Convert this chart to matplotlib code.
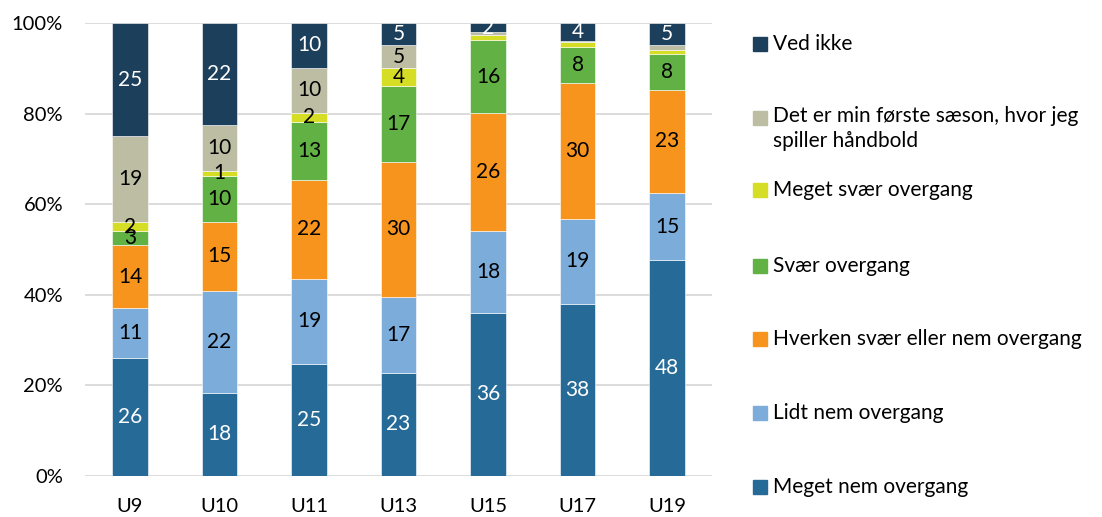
import matplotlib
matplotlib.use("Agg")
import matplotlib.pyplot as plt
import numpy as np

plt.rcParams['font.family'] = ['Lato', 'DejaVu Sans']

categories = ["U9", "U10", "U11", "U13", "U15", "U17", "U19"]
series_names = [
    "Meget nem overgang",
    "Lidt nem overgang",
    "Hverken svær eller nem overgang",
    "Svær overgang",
    "Meget svær overgang",
    "Det er min første sæson, hvor jeg\nspiller håndbold",
    "Ved ikke",
]
# values in percent (non-integer estimates are unlabeled in the original)
meget_nem = [26, 18, 25, 23, 36, 38, 48]
lidt_nem = [11, 22, 19, 17, 18, 19, 15]
hverken = [14, 15, 22, 30, 26, 30, 23]
svaer = [3, 10, 13, 17, 16, 8, 8]
meget_svaer = [2, 1, 2, 4, 1.2, 1.1, 0.7]
foerste = [19, 10, 10, 5, 0.6, 0.2, 1.1]
ved_ikke = [25, 22, 10, 5, 2, 4, 5]

colors = ["#266A97", "#7BACDA", "#F7941E", "#62B144", "#D6DD25", "#BDBDA4", "#1C3F5C"]
label_colors = ["white", "black", "black", "black", "black", "black", "white"]

data = np.array([meget_nem, lidt_nem, hverken, svaer, meget_svaer, foerste, ved_ikke], dtype=float)
totals = data.sum(axis=0)
norm = data / totals * 100

fig = plt.figure(figsize=(11.02, 5.17), dpi=100)
ax = fig.add_axes([85.3 / 1102, 41 / 517, 626.5 / 1102, 453 / 517])

x = np.arange(len(categories))
bottom = np.zeros(len(categories))
for i, name in enumerate(series_names):
    ax.bar(x, norm[i], width=0.40, bottom=bottom, color=colors[i], edgecolor="white",
           linewidth=0.4, zorder=3)
    for j in range(len(categories)):
        v = data[i, j]
        if float(v).is_integer():
            ax.text(x[j], bottom[j] + norm[i, j] / 2, f"{int(v)}", ha="center", va="center",
                    fontsize=15, color=label_colors[i], zorder=4)
    bottom += norm[i]

ax.set_xlim(-0.5, len(categories) - 0.5)
ax.set_ylim(0, 100)
ax.set_yticks(np.arange(0, 101, 20))
ax.set_yticklabels([f"{t}%" for t in range(0, 101, 20)], fontsize=14.5)
ax.set_xticks(x)
ax.set_xticklabels(categories, fontsize=14.5)
ax.tick_params(axis="both", length=0, colors="#000000")
ax.tick_params(axis="y", pad=16)
ax.tick_params(axis="x", pad=16)
ax.grid(axis="y", color="#D9D9D9", linewidth=1.3, zorder=0)
for s in ax.spines.values():
    s.set_visible(False)

# legend (reversed order)
legend_y = [487, 413, 339, 266, 190, 118, 44]
for i, name in enumerate(series_names):
    yc = legend_y[i]
    fig.patches.append(plt.Rectangle((753 / 1102, 1 - (yc + 7) / 517), 14 / 1102, 14 / 517,
                                     transform=fig.transFigure, color=colors[i], figure=fig))
    if "\n" in name:
        fig.text(773 / 1102, 1 - (yc - 12) / 517, name, ha="left", va="top", fontsize=15,
                 linespacing=1.3)
    else:
        fig.text(773 / 1102, 1 - yc / 517, name, ha="left", va="center", fontsize=15)

fig.savefig("out.png", dpi=100)
